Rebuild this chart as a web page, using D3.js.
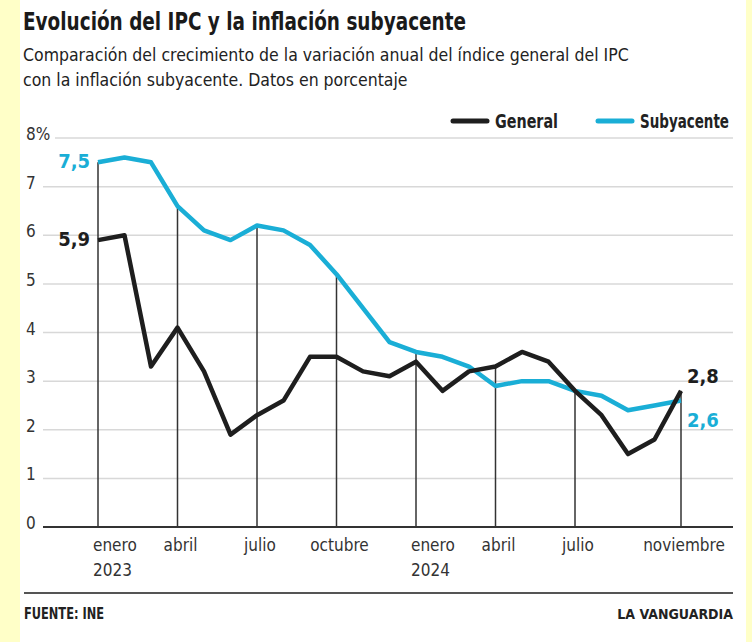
<!DOCTYPE html>
<html>
<head>
<meta charset="utf-8">
<script src="https://cdn.jsdelivr.net/npm/d3@7"></script>
<style>
  body { margin: 0; background: #ffffc8; }
  svg text { font-family: "Liberation Sans Narrow", "DejaVu Sans Condensed", "Roboto", sans-serif; }
</style>
</head>
<body>
<div id="chart"></div>
<script>
// Data: monthly annual change (%), Jan 2023 - Nov 2024
var months = ["2023-01","2023-02","2023-03","2023-04","2023-05","2023-06","2023-07","2023-08","2023-09","2023-10","2023-11","2023-12",
              "2024-01","2024-02","2024-03","2024-04","2024-05","2024-06","2024-07","2024-08","2024-09","2024-10","2024-11"];
var general = [5.9, 6.0, 3.3, 4.1, 3.2, 1.9, 2.3, 2.6, 3.5, 3.5, 3.2, 3.1,
               3.4, 2.8, 3.2, 3.3, 3.6, 3.4, 2.8, 2.3, 1.5, 1.8, 2.8];
var subyacente = [7.5, 7.6, 7.5, 6.6, 6.1, 5.9, 6.2, 6.1, 5.8, 5.2, 4.5, 3.8,
                  3.6, 3.5, 3.3, 2.9, 3.0, 3.0, 2.8, 2.7, 2.4, 2.5, 2.6];
var yTicks = [0, 1, 2, 3, 4, 5, 6, 7, 8];
// month index -> axis label lines
var xTickIdx = [0, 3, 6, 9, 12, 15, 18, 22];
var xTickLabels = [["enero", "2023"], ["abril"], ["julio"], ["octubre"], ["enero", "2024"], ["abril"], ["julio"], ["noviembre"]];

var svgWidth = 752, svgHeight = 642;
var margin = {top: 138, right: 71, bottom: 115, left: 98};

var svg = d3.select("#chart").append("svg")
  .attr("width", svgWidth)
  .attr("height", svgHeight);

// white panel
svg.append("rect")
  .attr("x", 20).attr("y", 0)
  .attr("width", 726).attr("height", svgHeight)
  .attr("fill", "#fff");

var x = d3.scaleLinear()
  .domain([0, months.length - 1])
  .range([margin.left, svgWidth - margin.right]);

var y = d3.scaleLinear()
  .domain([0, 8])
  .range([svgHeight - margin.bottom, margin.top]);

// Titles
svg.append("text")
  .attr("x", 23).attr("y", 30)
  .attr("font-size", 25).attr("font-weight", "bold")
  .attr("fill", "#1a1a1a")
  .attr("textLength", 443).attr("lengthAdjust", "spacingAndGlyphs")
  .text("Evolución del IPC y la inflación subyacente");

svg.append("text")
  .attr("x", 23).attr("y", 61)
  .attr("font-size", 17.5).attr("fill", "#222")
  .text("Comparación del crecimiento de la variación anual del índice general del IPC");

svg.append("text")
  .attr("x", 23).attr("y", 86)
  .attr("font-size", 17.5).attr("fill", "#222")
  .text("con la inflación subyacente. Datos en porcentaje");

// gridlines
svg.append("g").selectAll("line")
  .data(yTicks.filter(d => d > 0))
  .enter().append("line")
  .attr("x1", d => d === 8 ? 55 : 43)
  .attr("x2", 733)
  .attr("y1", d => y(d)).attr("y2", d => y(d))
  .attr("stroke", "#d8d8d8")
  .attr("stroke-width", 1.5);

// y labels
svg.append("g").selectAll("text")
  .data(yTicks)
  .enter().append("text")
  .attr("x", 26)
  .attr("y", d => y(d) + 2)
  .attr("font-size", 17).attr("fill", "#333")
  .text(d => d === 8 ? "8%" : d);

// vertical reference lines up to the higher value
svg.append("g").selectAll("line")
  .data(xTickIdx)
  .enter().append("line")
  .attr("x1", d => x(d)).attr("x2", d => x(d))
  .attr("y1", y(0))
  .attr("y2", d => y(Math.max(general[d], subyacente[d])))
  .attr("stroke", "#333")
  .attr("stroke-width", 1.5);

// baseline
svg.append("line")
  .attr("x1", 43).attr("x2", 733)
  .attr("y1", y(0)).attr("y2", y(0))
  .attr("stroke", "#333").attr("stroke-width", 2);

// x labels
var xl = svg.append("g").selectAll("text")
  .data(xTickIdx)
  .enter().append("text")
  .attr("x", (d, i) => xTickLabels[i].length > 1 ? x(d) - 5 : x(d) + 3)
  .attr("y", y(0) + 24)
  .attr("text-anchor", (d, i) => xTickLabels[i].length > 1 ? "start" : "middle")
  .attr("font-size", 17).attr("fill", "#333");
xl.each(function(d, i) {
  var t = d3.select(this);
  xTickLabels[i].forEach(function(s, j) {
    t.append("tspan")
      .attr("x", t.attr("x"))
      .attr("dy", j === 0 ? 0 : 25)
      .text(s);
  });
});

// lines
var line = d3.line()
  .x((d, i) => x(i))
  .y(d => y(d));

svg.append("path")
  .datum(subyacente)
  .attr("d", line)
  .attr("fill", "none")
  .attr("stroke", "#1aaed6")
  .attr("stroke-width", 4.5)
  .attr("stroke-linejoin", "round");

svg.append("path")
  .datum(general)
  .attr("d", line)
  .attr("fill", "none")
  .attr("stroke", "#1e1e1e")
  .attr("stroke-width", 4.5)
  .attr("stroke-linejoin", "round");

// end labels
var last = months.length - 1;
var fmt = d => d.toFixed(1).replace(".", ",");

svg.append("text")
  .attr("x", x(0) - 8).attr("y", y(subyacente[0]) + 6)
  .attr("text-anchor", "end")
  .attr("font-size", 20).attr("font-weight", "bold").attr("fill", "#1aaed6")
  .text(fmt(subyacente[0]));

svg.append("text")
  .attr("x", x(0) - 8).attr("y", y(general[0]) + 6)
  .attr("text-anchor", "end")
  .attr("font-size", 20).attr("font-weight", "bold").attr("fill", "#1e1e1e")
  .text(fmt(general[0]));

svg.append("text")
  .attr("x", x(last) + 6).attr("y", y(general[last]) - 8)
  .attr("font-size", 20).attr("font-weight", "bold").attr("fill", "#1e1e1e")
  .text(fmt(general[last]));

svg.append("text")
  .attr("x", x(last) + 6).attr("y", y(subyacente[last]) + 26)
  .attr("font-size", 20).attr("font-weight", "bold").attr("fill", "#1aaed6")
  .text(fmt(subyacente[last]));

// legend
var legend = [["General", "#1e1e1e", 453, 63], ["Subyacente", "#1aaed6", 598, 89]];
var lg = svg.append("g").selectAll("g")
  .data(legend)
  .enter().append("g");
lg.append("line")
  .attr("x1", d => d[2]).attr("x2", d => d[2] + 34)
  .attr("y1", 121).attr("y2", 121)
  .attr("stroke", d => d[1])
  .attr("stroke-width", 5)
  .attr("stroke-linecap", "round");
lg.append("text")
  .attr("x", d => d[2] + 42).attr("y", 128)
  .attr("font-size", 19).attr("font-weight", "bold").attr("fill", "#222")
  .attr("textLength", d => d[3]).attr("lengthAdjust", "spacingAndGlyphs")
  .text(d => d[0]);

// footer
svg.append("line")
  .attr("x1", 24).attr("x2", 733)
  .attr("y1", 593).attr("y2", 593)
  .attr("stroke", "#555").attr("stroke-width", 2);

svg.append("text")
  .attr("x", 24).attr("y", 619)
  .attr("font-size", 15).attr("font-weight", "bold").attr("fill", "#222")
  .attr("textLength", 80).attr("lengthAdjust", "spacingAndGlyphs")
  .text("FUENTE: INE");

svg.append("text")
  .attr("x", 733).attr("y", 619)
  .attr("text-anchor", "end")
  .attr("font-size", 14).attr("font-weight", "bold").attr("fill", "#222")
  .text("LA VANGUARDIA");
</script>
</body>
</html>
